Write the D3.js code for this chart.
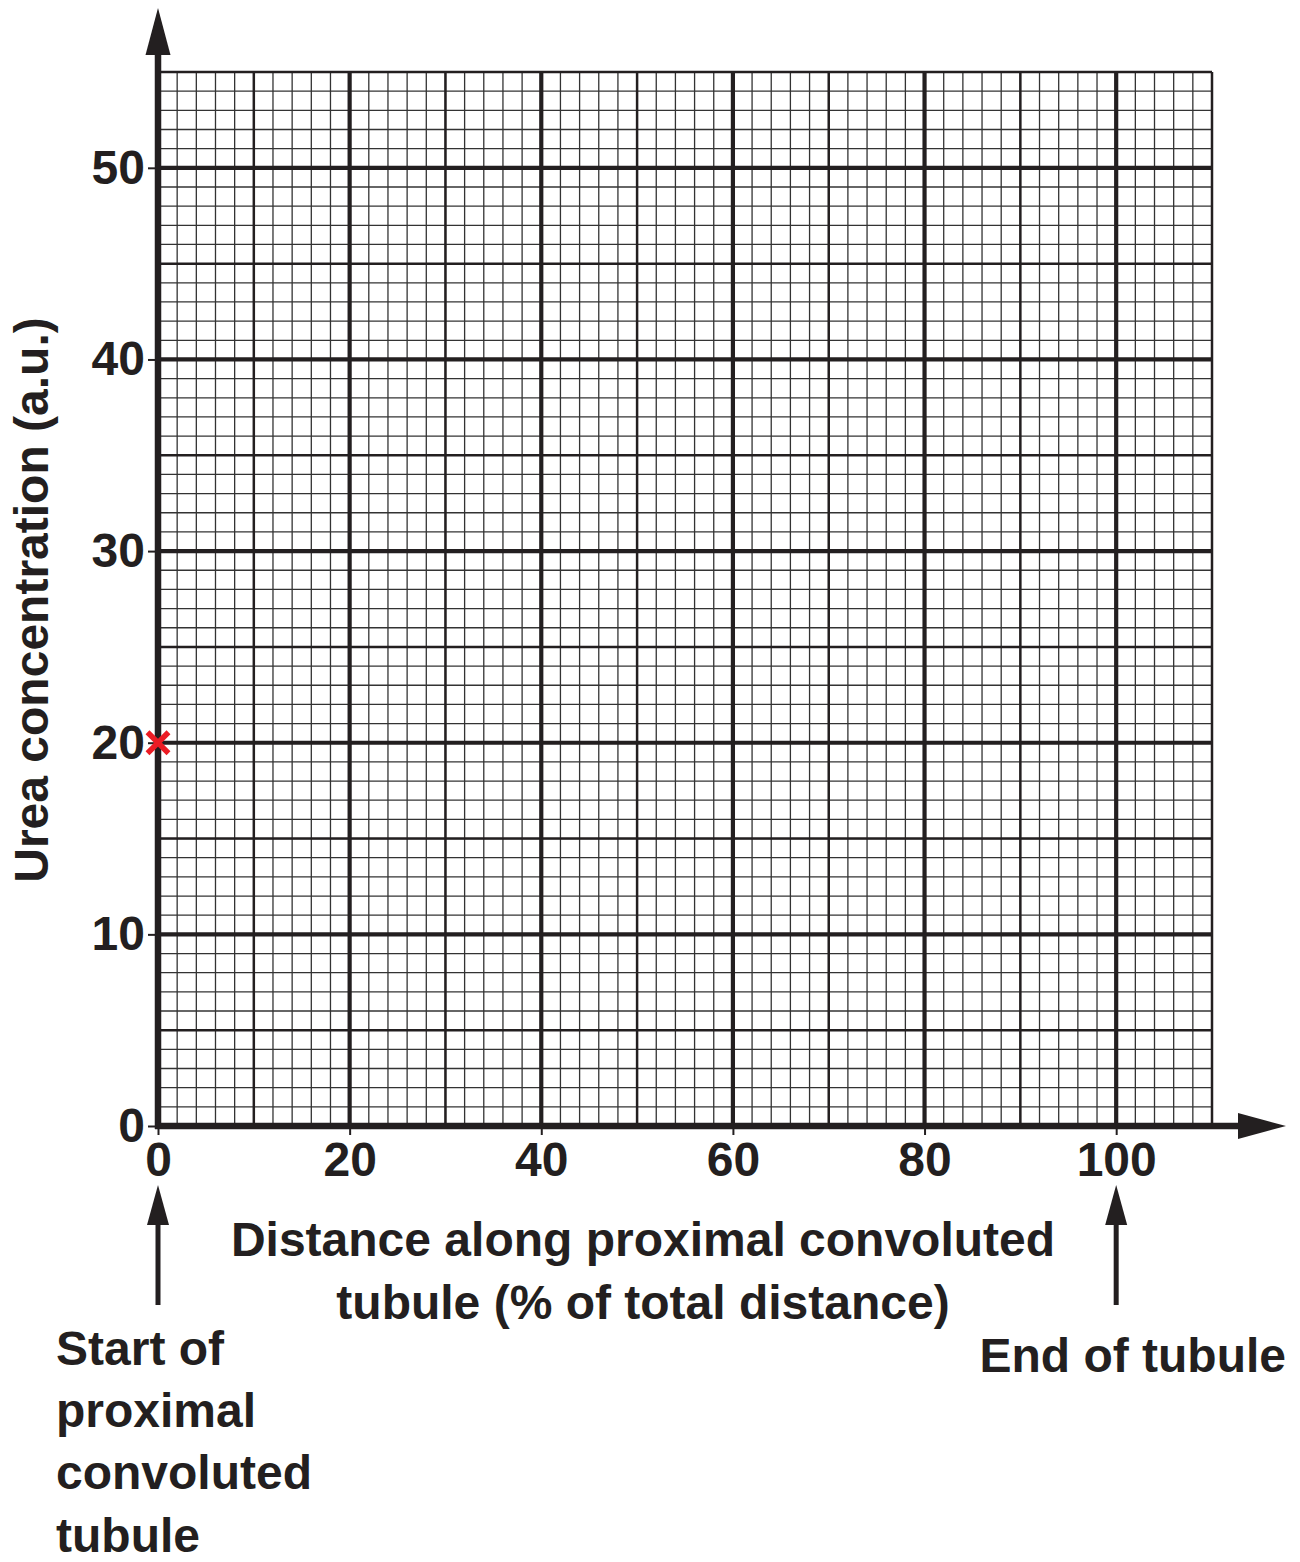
<!DOCTYPE html>
<html><head><meta charset="utf-8">
<script src="https://cdn.jsdelivr.net/npm/d3@7"></script>
<style>
html,body{margin:0;padding:0;background:#fff;}
text{font-family:"Liberation Sans",Arial,Helvetica,sans-serif;font-weight:bold;fill:#231f20;}
</style></head>
<body>
<svg id="chart" width="1300" height="1562"></svg>
<script>
const xTicks = [0, 20, 40, 60, 80, 100];
const yTicks = [0, 10, 20, 30, 40, 50];
const xDomain = [0, 110];
const yDomain = [0, 55];
const points = [{x: 0, y: 20}];
const yTitle = "Urea concentration (a.u.)";
const xTitleLines = ["Distance along proximal convoluted", "tubule (% of total distance)"];
const startLabel = ["Start of", "proximal", "convoluted", "tubule"];
const endLabel = "End of tubule";

const ink = "#231f20";
const svg = d3.select("#chart");
const x = d3.scaleLinear().domain(xDomain).range([158, 1212]);
const y = d3.scaleLinear().domain(yDomain).range([1126, 72]);

const g = svg.append("g");
// minor grid
g.append("g").selectAll("line").data(d3.range(0, 111, 2)).join("line")
  .attr("x1", d => x(d)).attr("x2", d => x(d)).attr("y1", y(0)).attr("y2", y(55))
  .attr("stroke", "#333").attr("stroke-width", 1.3);
g.append("g").selectAll("line").data(d3.range(0, 56, 1)).join("line")
  .attr("y1", d => y(d)).attr("y2", d => y(d)).attr("x1", x(0)).attr("x2", x(110))
  .attr("stroke", "#333").attr("stroke-width", 1.3);
// medium grid
g.append("g").selectAll("line").data(d3.range(10, 111, 20)).join("line")
  .attr("x1", d => x(d)).attr("x2", d => x(d)).attr("y1", y(0)).attr("y2", y(55))
  .attr("stroke", ink).attr("stroke-width", 2.5);
g.append("g").selectAll("line").data(d3.range(5, 56, 10)).join("line")
  .attr("y1", d => y(d)).attr("y2", d => y(d)).attr("x1", x(0)).attr("x2", x(110))
  .attr("stroke", ink).attr("stroke-width", 2.5);
// major grid
g.append("g").selectAll("line").data(xTicks).join("line")
  .attr("x1", d => x(d)).attr("x2", d => x(d)).attr("y1", y(0)).attr("y2", y(55))
  .attr("stroke", ink).attr("stroke-width", 4.2);
g.append("g").selectAll("line").data(yTicks).join("line")
  .attr("y1", d => y(d)).attr("y2", d => y(d)).attr("x1", x(0)).attr("x2", x(110))
  .attr("stroke", ink).attr("stroke-width", 4.2);

// axes with tick labels
const fs = 48;
const ax = svg.append("g").attr("transform", `translate(0,${y(0)})`)
  .call(d3.axisBottom(x).tickValues(xTicks).tickSize(9).tickPadding(7));
const ay = svg.append("g").attr("transform", `translate(${x(0)},0)`)
  .call(d3.axisLeft(y).tickValues(yTicks).tickSize(10).tickPadding(3));
[ax, ay].forEach(a => {
  a.select(".domain").remove();
  a.selectAll(".tick line").attr("stroke", ink).attr("stroke-width", 2);
  a.selectAll(".tick text").style("font-size", fs + "px").style("font-family", "Liberation Sans, Arial, sans-serif")
    .style("font-weight", "bold").attr("fill", ink);
});

// axis lines
svg.append("line").attr("x1", x(0)).attr("x2", x(0)).attr("y1", 50).attr("y2", y(0) + 3)
  .attr("stroke", ink).attr("stroke-width", 6.5);
svg.append("line").attr("x1", x(0) - 3).attr("x2", 1245).attr("y1", y(0)).attr("y2", y(0))
  .attr("stroke", ink).attr("stroke-width", 6.5);
// arrowheads
svg.append("path").attr("d", `M${x(0)},8 L${x(0)+12.5},55 L${x(0)-12.5},55 Z`).attr("fill", ink);
svg.append("path").attr("d", `M1286,${y(0)} L1238,${y(0)-13} L1238,${y(0)+13} Z`).attr("fill", ink);

// data point (red cross)
const cs = 10.5;
svg.append("g").selectAll("path").data(points).join("path")
  .attr("d", d => `M${x(d.x)-cs},${y(d.y)-cs} L${x(d.x)+cs},${y(d.y)+cs} M${x(d.x)-cs},${y(d.y)+cs} L${x(d.x)+cs},${y(d.y)-cs}`)
  .attr("stroke", "#ec1c24").attr("stroke-width", 5.5).attr("fill", "none");

// y title
svg.append("text").attr("transform", `translate(48,600) rotate(-90)`)
  .attr("text-anchor", "middle").style("font-size", fs + "px").text(yTitle);

// x title
svg.append("g").selectAll("text").data(xTitleLines).join("text")
  .attr("x", 643).attr("y", (d, i) => 1256 + i * 63)
  .attr("text-anchor", "middle").style("font-size", fs + "px").text(d => d);

// pointer arrows below axis
[0, 100].forEach(v => {
  svg.append("line").attr("x1", x(v)).attr("x2", x(v)).attr("y1", 1220).attr("y2", 1305)
    .attr("stroke", ink).attr("stroke-width", 5);
  svg.append("path").attr("d", `M${x(v)},1185 L${x(v)+11},1225 L${x(v)-11},1225 Z`).attr("fill", ink);
});

svg.append("g").selectAll("text").data(startLabel).join("text")
  .attr("x", 56).attr("y", (d, i) => 1365 + i * 62.2)
  .style("font-size", fs + "px").text(d => d);
svg.append("text").attr("x", 1286).attr("y", 1372).attr("text-anchor", "end")
  .style("font-size", fs + "px").text(endLabel);
</script>
</body></html>
